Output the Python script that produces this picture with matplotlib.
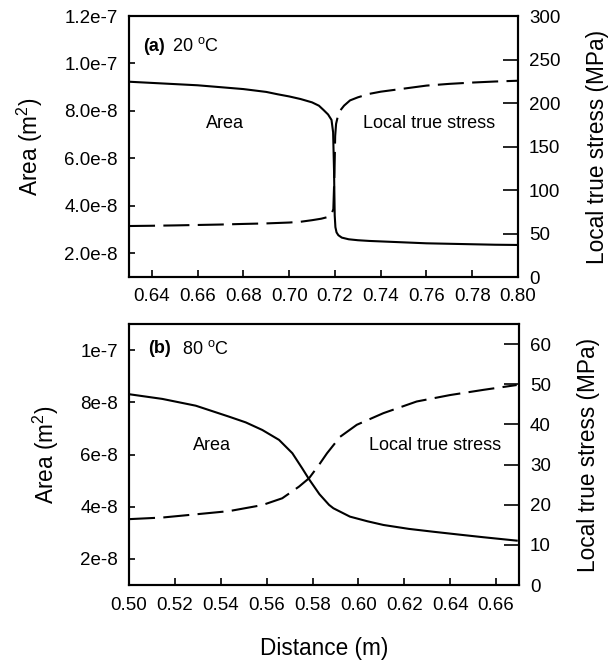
import matplotlib
matplotlib.use("Agg")
import matplotlib.pyplot as plt

plt.rcParams['font.family'] = ['Liberation Sans', 'DejaVu Sans']
plt.rcParams['mathtext.fontset'] = 'custom'
plt.rcParams['mathtext.rm'] = 'Liberation Sans'
plt.rcParams['mathtext.it'] = 'Liberation Sans:italic'
plt.rcParams['mathtext.bf'] = 'Liberation Sans:bold'

# ---------------- data: panel (a) 20 C ----------------
area_a_x = [0.630, 0.640, 0.650, 0.660, 0.670, 0.680, 0.690, 0.695, 0.700, 0.705,
            0.710, 0.7130, 0.7150, 0.7170, 0.7185, 0.7192, 0.7196, 0.7199, 0.7202,
            0.7207, 0.7215, 0.7230, 0.7260, 0.7300, 0.7350, 0.7400, 0.7500, 0.7600,
            0.7700, 0.7800, 0.7900, 0.8000]
area_a = [9.23e-8, 9.18e-8, 9.13e-8, 9.08e-8, 9.00e-8, 8.92e-8, 8.80e-8, 8.70e-8,
          8.61e-8, 8.50e-8, 8.36e-8, 8.22e-8, 8.04e-8, 7.85e-8, 7.62e-8, 7.10e-8,
          5.50e-8, 3.60e-8, 3.10e-8, 2.88e-8, 2.76e-8, 2.66e-8, 2.59e-8, 2.55e-8,
          2.52e-8, 2.50e-8, 2.46e-8, 2.42e-8, 2.40e-8, 2.38e-8, 2.36e-8, 2.35e-8]

stress_a_x = [0.630, 0.640, 0.650, 0.660, 0.670, 0.680, 0.690, 0.700, 0.705, 0.710,
              0.714, 0.7170, 0.7185, 0.7193, 0.7198, 0.7201, 0.7205, 0.7212, 0.7222,
              0.7240, 0.7266, 0.7300, 0.7350, 0.7400, 0.7500, 0.7600, 0.7700, 0.7800,
              0.7900, 0.8000]
stress_a = [58.6, 58.9, 59.3, 59.8, 60.3, 61.0, 61.6, 62.6, 63.5, 65.3,
            67.0, 69.0, 72.0, 78.0, 120.0, 162.0, 176.0, 184.0, 191.0,
            197.0, 203.0, 206.5, 210.5, 213.0, 216.5, 220.0, 222.0, 223.5,
            224.7, 225.6]

xticks_a = [0.64, 0.66, 0.68, 0.70, 0.72, 0.74, 0.76, 0.78, 0.80]
xticklabels_a = ["0.64", "0.66", "0.68", "0.70", "0.72", "0.74", "0.76", "0.78", "0.80"]
area_ticks_a = [2e-8, 4e-8, 6e-8, 8e-8, 1e-7, 1.2e-7]
area_ticklabels_a = ["2.0e-8", "4.0e-8", "6.0e-8", "8.0e-8", "1.0e-7", "1.2e-7"]
stress_ticks_a = [0, 50, 100, 150, 200, 250, 300]

# ---------------- data: panel (b) 80 C ----------------
area_b_x = [0.500, 0.5145, 0.5291, 0.5436, 0.5509, 0.5581, 0.5654, 0.5712, 0.5755,
            0.5785, 0.5830, 0.5872, 0.5891, 0.5963, 0.6040, 0.6109, 0.6220, 0.6327,
            0.6440, 0.6545, 0.6690]
area_b = [8.31e-8, 8.13e-8, 7.87e-8, 7.45e-8, 7.23e-8, 6.94e-8, 6.56e-8, 6.05e-8,
          5.47e-8, 5.05e-8, 4.48e-8, 4.07e-8, 3.94e-8, 3.62e-8, 3.44e-8, 3.30e-8,
          3.15e-8, 3.04e-8, 2.93e-8, 2.83e-8, 2.70e-8]

stress_b_x = [0.500, 0.5145, 0.5291, 0.5436, 0.5581, 0.5668, 0.5741, 0.5785, 0.5828,
              0.5863, 0.5920, 0.5993, 0.6109, 0.6254, 0.6399, 0.6545, 0.6690]
stress_b = [16.4, 16.8, 17.6, 18.4, 19.9, 21.6, 24.5, 26.6, 29.9,
            32.8, 36.9, 39.9, 42.8, 45.7, 47.3, 48.6, 49.8]

xticks_b = [0.50, 0.52, 0.54, 0.56, 0.58, 0.60, 0.62, 0.64, 0.66]
xticklabels_b = ["0.50", "0.52", "0.54", "0.56", "0.58", "0.60", "0.62", "0.64", "0.66"]
area_ticks_b = [2e-8, 4e-8, 6e-8, 8e-8, 1e-7]
area_ticklabels_b = ["2e-8", "4e-8", "6e-8", "8e-8", "1e-7"]
stress_ticks_b = [0, 10, 20, 30, 40, 50, 60]

# ---------------- figure ----------------
fig = plt.figure(figsize=(6.08, 6.63), dpi=100)
LW = 1.5
TICK_FS = 13.5
LAB_FS = 16.3
ANN_FS = 13

def style(ax, twin):
    for s in ax.spines.values():
        s.set_linewidth(LW)
    ax.tick_params(axis='x', direction='in', length=5, width=1.2, pad=8,
                   labelsize=TICK_FS, top=False)
    ax.tick_params(axis='y', direction='in', length=4.5, width=1.2, pad=8,
                   labelsize=TICK_FS)
    twin.tick_params(axis='y', direction='in', length=10.5, width=1.2, pad=8,
                     labelsize=TICK_FS)
    for s in twin.spines.values():
        s.set_linewidth(LW)

# panel (a)
ax1 = fig.add_axes([129/608, 1-277/663, 389/608, 261/663])
ax1r = ax1.twinx()
ax1.plot(area_a_x, area_a, color='black', lw=LW, solid_joinstyle='round')
l1, = ax1r.plot(stress_a_x, stress_a, color='black', lw=LW)
l1.set_dashes((12.5, 4))
ax1.set_xlim(0.63, 0.80)
ax1.set_ylim(1e-8, 1.2e-7)
ax1r.set_ylim(0, 300)
ax1.set_xticks(xticks_a)
ax1.set_xticklabels(xticklabels_a)
ax1.set_yticks(area_ticks_a)
ax1.set_yticklabels(area_ticklabels_a)
ax1r.set_yticks(stress_ticks_a)
ax1.set_ylabel("Area (m$^2$)", fontsize=LAB_FS, labelpad=14)
ax1r.set_ylabel("Local true stress (MPa)", fontsize=LAB_FS, labelpad=18.5)
style(ax1, ax1r)
ax1.text(0.037, 0.885, "(a)", transform=ax1.transAxes, fontsize=ANN_FS,
         fontweight='bold', ha='left', va='center')
ax1.text(0.11, 0.885, "20 $^{\\rm o}$C", transform=ax1.transAxes,
         fontsize=ANN_FS, ha='left', va='center')
ax1.text(0.247, 0.59, "Area", transform=ax1.transAxes, fontsize=ANN_FS,
         ha='center', va='center')
ax1.text(0.771, 0.59, "Local true stress", transform=ax1.transAxes,
         fontsize=ANN_FS, ha='center', va='center')

# panel (b)
ax2 = fig.add_axes([129/608, 1-585/663, 390/608, 261/663])
ax2r = ax2.twinx()
ax2.plot(area_b_x, area_b, color='black', lw=LW)
l2, = ax2r.plot(stress_b_x, stress_b, color='black', lw=LW)
l2.set_dashes((12.5, 4))
ax2.set_xlim(0.50, 0.67)
ax2.set_ylim(1e-8, 1.1e-7)
ax2r.set_ylim(0, 65)
ax2.set_xticks(xticks_b)
ax2.set_xticklabels(xticklabels_b)
ax2.set_yticks(area_ticks_b)
ax2.set_yticklabels(area_ticklabels_b)
ax2r.set_yticks(stress_ticks_b)
ax2.set_ylabel("Area (m$^2$)", fontsize=LAB_FS, labelpad=14)
ax2r.set_ylabel("Local true stress (MPa)", fontsize=LAB_FS, labelpad=18.5)
ax2.set_xlabel("Distance (m)", fontsize=LAB_FS, labelpad=16.5)
style(ax2, ax2r)
ax2.tick_params(axis='x', pad=9)
ax2.text(0.048, 0.905, "(b)", transform=ax2.transAxes, fontsize=ANN_FS,
         fontweight='bold', ha='left', va='center')
ax2.text(0.136, 0.905, "80 $^{\\rm o}$C", transform=ax2.transAxes,
         fontsize=ANN_FS, ha='left', va='center')
ax2.text(0.213, 0.535, "Area", transform=ax2.transAxes, fontsize=ANN_FS,
         ha='center', va='center')
ax2.text(0.785, 0.535, "Local true stress", transform=ax2.transAxes,
         fontsize=ANN_FS, ha='center', va='center')

fig.savefig("out.png", dpi=100)
